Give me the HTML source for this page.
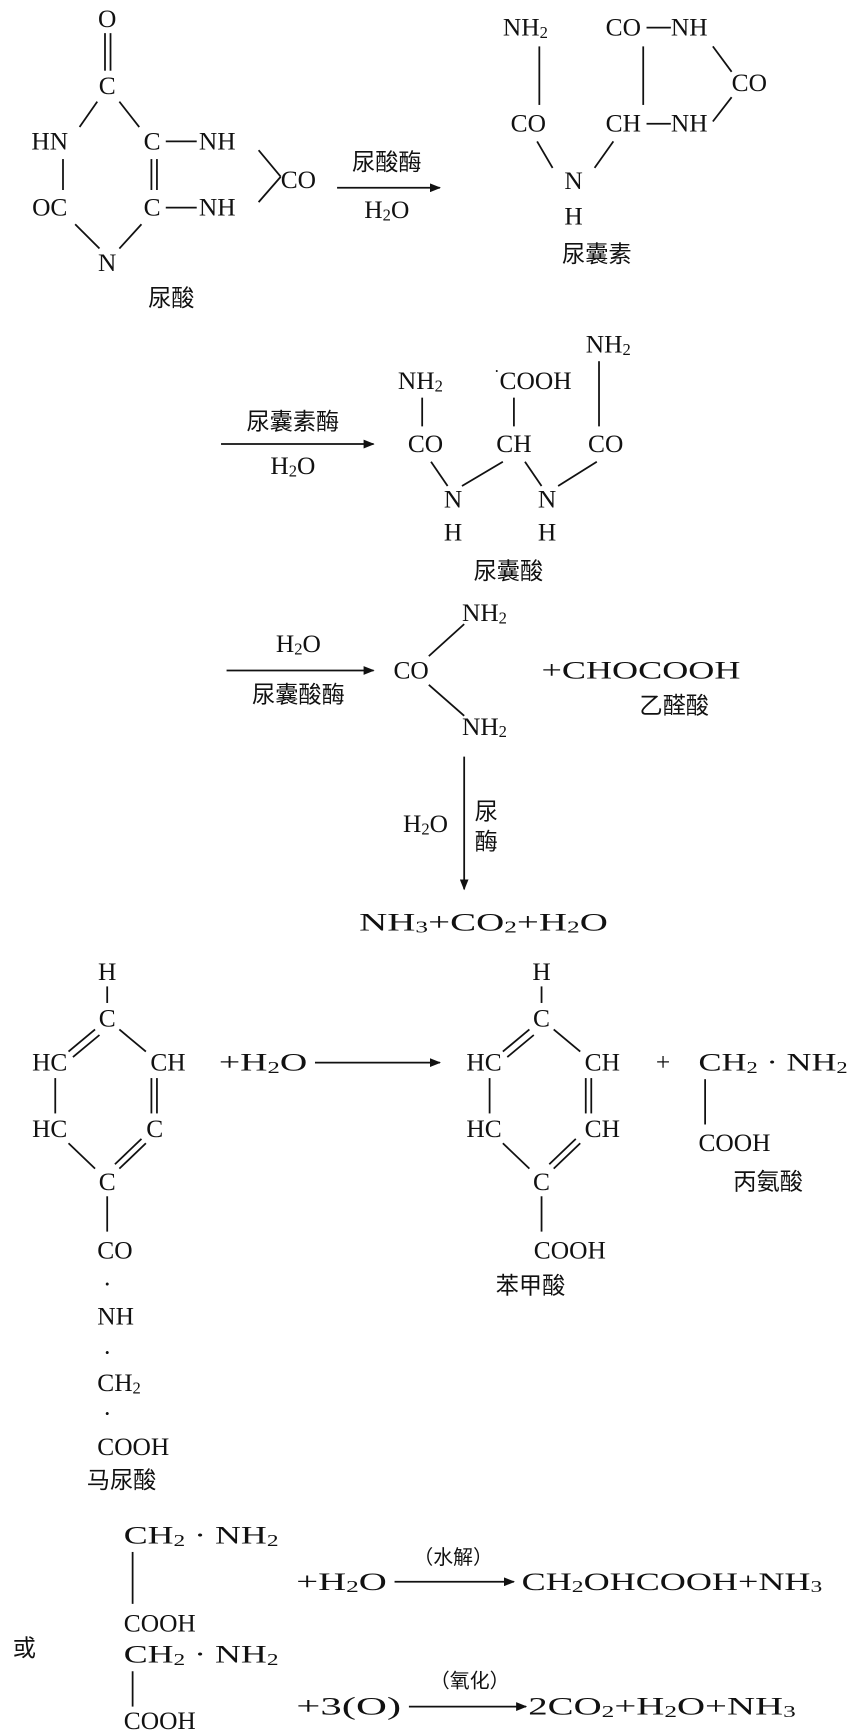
<!DOCTYPE html>
<html><head><meta charset="utf-8"><style>
html,body{margin:0;padding:0;background:#fff;}
svg{display:block;}
text{font-family:"Liberation Serif","Noto Serif CJK SC","Noto Sans CJK SC",serif;font-size:23px;fill:#111;dominant-baseline:central;}
.c{text-anchor:middle;}
.zh{font-family:"Noto Sans CJK SC","WenQuanYi Zen Hei",sans-serif;font-size:21px;}
.s{font-size:15px;}
line,path{stroke:#111;stroke-width:1.6;fill:none;}
</style></head><body>
<svg width="851" height="1732" viewBox="0 0 770 1568" preserveAspectRatio="none">
<defs><marker id="a" markerWidth="10" markerHeight="8" refX="9" refY="4" orient="auto" markerUnits="userSpaceOnUse"><path d="M0,0 L10,4 L0,8 Z" style="fill:#111;stroke:none"/></marker></defs>

<!-- uric acid -->
<text x="97" y="17" class="c">O</text>
<line x1="95" y1="30" x2="95" y2="64"/><line x1="100" y1="30" x2="100" y2="64"/>
<text x="97" y="78" class="c">C</text>
<line x1="88" y1="92" x2="72" y2="115"/><line x1="108" y1="92" x2="126" y2="115"/>
<text x="45" y="128" class="c">HN</text>
<text x="130" y="128">C</text><line x1="150" y1="128" x2="178" y2="128"/><text x="180" y="128">NH</text>
<line x1="57" y1="144" x2="57" y2="172"/>
<line x1="137" y1="144" x2="137" y2="172"/><line x1="142" y1="144" x2="142" y2="172"/>
<text x="45" y="188" class="c">OC</text>
<text x="130" y="188">C</text><line x1="150" y1="188" x2="178" y2="188"/><text x="180" y="188">NH</text>
<line x1="234" y1="136" x2="254" y2="160"/><line x1="234" y1="183" x2="254" y2="160"/>
<text x="254" y="163">CO</text>
<line x1="68" y1="203" x2="90" y2="225"/><line x1="128" y1="203" x2="108" y2="225"/>
<text x="97" y="238" class="c">N</text>
<text x="155" y="268" class="c zh">尿酸</text>
<line x1="305" y1="170" x2="398" y2="170" marker-end="url(#a)"/>
<text x="350" y="145" class="c zh">尿酸酶</text>
<text x="350" y="190" class="c">H<tspan class="s" dy="4">2</tspan><tspan dy="-4">O</tspan></text>

<!-- allantoin -->
<text x="455" y="25">NH<tspan class="s" dy="4">2</tspan></text>
<line x1="488" y1="42" x2="488" y2="95"/>
<text x="478" y="112" class="c">CO</text>
<text x="548" y="25">CO</text><line x1="585" y1="25" x2="607" y2="25"/><text x="607" y="25">NH</text>
<line x1="582" y1="42" x2="582" y2="95"/>
<line x1="645" y1="42" x2="662" y2="65"/>
<text x="662" y="75">CO</text>
<line x1="662" y1="88" x2="645" y2="110"/>
<text x="548" y="112">CH</text><line x1="585" y1="112" x2="607" y2="112"/><text x="607" y="112">NH</text>
<line x1="486" y1="128" x2="500" y2="152"/><line x1="555" y1="128" x2="538" y2="152"/>
<text x="519" y="164" class="c">N</text>
<text x="519" y="196" class="c">H</text>
<text x="540" y="228" class="c zh">尿囊素</text>

<!-- allantoic acid -->
<line x1="200" y1="402" x2="338" y2="402" marker-end="url(#a)"/>
<text x="265" y="380" class="c zh">尿囊素酶</text>
<text x="265" y="422" class="c">H<tspan class="s" dy="4">2</tspan><tspan dy="-4">O</tspan></text>
<text x="360" y="345">NH<tspan class="s" dy="4">2</tspan></text>
<line x1="382" y1="360" x2="382" y2="386"/>
<text x="385" y="402" class="c">CO</text>
<text x="452" y="345">COOH</text>
<text x="447" y="336" class="s">·</text>
<line x1="465" y1="360" x2="465" y2="386"/>
<text x="465" y="402" class="c">CH</text>
<text x="530" y="312">NH<tspan class="s" dy="4">2</tspan></text>
<line x1="542" y1="327" x2="542" y2="386"/>
<text x="548" y="402" class="c">CO</text>
<line x1="390" y1="418" x2="405" y2="440"/><line x1="455" y1="418" x2="418" y2="440"/>
<text x="410" y="452" class="c">N</text><text x="410" y="482" class="c">H</text>
<line x1="475" y1="418" x2="490" y2="440"/><line x1="540" y1="418" x2="505" y2="440"/>
<text x="495" y="452" class="c">N</text><text x="495" y="482" class="c">H</text>
<text x="460" y="515" class="c zh">尿囊酸</text>

<!-- urea -->
<line x1="205" y1="607" x2="338" y2="607" marker-end="url(#a)"/>
<text x="270" y="583" class="c">H<tspan class="s" dy="4">2</tspan><tspan dy="-4">O</tspan></text>
<text x="270" y="627" class="c zh">尿囊酸酶</text>
<text x="372" y="607" class="c">CO</text>
<line x1="388" y1="594" x2="420" y2="565"/><line x1="388" y1="620" x2="420" y2="648"/>
<text x="418" y="555">NH<tspan class="s" dy="4">2</tspan></text>
<text x="418" y="658">NH<tspan class="s" dy="4">2</tspan></text>
<text x="490" y="607" textLength="180" lengthAdjust="spacingAndGlyphs">+CHOCOOH</text>
<text x="610" y="637" class="c zh">乙醛酸</text>
<line x1="420" y1="685" x2="420" y2="805" marker-end="url(#a)"/>
<text x="385" y="746" class="c">H<tspan class="s" dy="4">2</tspan><tspan dy="-4">O</tspan></text>
<text x="440" y="733" class="c zh">尿</text><text x="440" y="760" class="c zh">酶</text>
<text x="325" y="835" textLength="225" lengthAdjust="spacingAndGlyphs">NH<tspan class="s" dy="4">3</tspan><tspan dy="-4">+CO</tspan><tspan class="s" dy="4">2</tspan><tspan dy="-4">+H</tspan><tspan class="s" dy="4">2</tspan><tspan dy="-4">O</tspan></text>

<!-- hippuric -->
<g id="ring">
<text x="97" y="880" class="c">H</text>
<line x1="97" y1="893" x2="97" y2="908"/>
<text x="97" y="922" class="c">C</text>
<line x1="86" y1="932" x2="62" y2="952"/><line x1="90" y1="937" x2="66" y2="957"/>
<line x1="108" y1="932" x2="132" y2="952"/>
<text x="45" y="962" class="c">HC</text>
<text x="152" y="962" class="c">CH</text>
<line x1="50" y1="976" x2="50" y2="1008"/>
<line x1="137" y1="976" x2="137" y2="1008"/><line x1="142" y1="976" x2="142" y2="1008"/>
<text x="45" y="1022" class="c">HC</text>
<line x1="62" y1="1035" x2="86" y2="1058"/>
<line x1="132" y1="1035" x2="108" y2="1058"/><line x1="128" y1="1031" x2="104" y2="1054"/>
<text x="97" y="1070" class="c">C</text>
<line x1="97" y1="1083" x2="97" y2="1115"/>
</g>
<text x="140" y="1022" class="c">C</text>
<text x="88" y="1132">CO</text>
<text x="97" y="1163" class="c">·</text>
<text x="88" y="1192">NH</text>
<text x="97" y="1225" class="c">·</text>
<text x="88" y="1252">CH<tspan class="s" dy="4">2</tspan></text>
<text x="97" y="1280" class="c">·</text>
<text x="88" y="1310">COOH</text>
<text x="110" y="1338" class="c zh">马尿酸</text>
<text x="198" y="962" textLength="80" lengthAdjust="spacingAndGlyphs">+H<tspan class="s" dy="4">2</tspan><tspan dy="-4">O</tspan></text>
<line x1="285" y1="962" x2="398" y2="962" marker-end="url(#a)"/>

<use href="#ring" x="393" y="0"/>
<text x="545" y="1022" class="c">CH</text>
<text x="483" y="1132">COOH</text>
<text x="480" y="1162" class="c zh">苯甲酸</text>
<text x="600" y="962" class="c">+</text>
<text x="632" y="962" textLength="135" lengthAdjust="spacingAndGlyphs">CH<tspan class="s" dy="4">2</tspan><tspan dy="-4"> · NH</tspan><tspan class="s" dy="4">2</tspan></text>
<line x1="638" y1="977" x2="638" y2="1018"/>
<text x="632" y="1035">COOH</text>
<text x="695" y="1068" class="c zh">丙氨酸</text>

<!-- bottom -->
<text x="112" y="1390" textLength="140" lengthAdjust="spacingAndGlyphs">CH<tspan class="s" dy="4">2</tspan><tspan dy="-4"> · NH</tspan><tspan class="s" dy="4">2</tspan></text>
<line x1="120" y1="1405" x2="120" y2="1452"/>
<text x="112" y="1470">COOH</text>
<text x="268" y="1432" textLength="82" lengthAdjust="spacingAndGlyphs">+H<tspan class="s" dy="4">2</tspan><tspan dy="-4">O</tspan></text>
<line x1="357" y1="1432" x2="465" y2="1432" marker-end="url(#a)"/>
<text x="410" y="1408" class="c zh" style="font-size:18px">（水解）</text>
<text x="472" y="1432" textLength="272" lengthAdjust="spacingAndGlyphs">CH<tspan class="s" dy="4">2</tspan><tspan dy="-4">OHCOOH+NH</tspan><tspan class="s" dy="4">3</tspan></text>
<text x="22" y="1490" class="c zh">或</text>
<text x="112" y="1498" textLength="140" lengthAdjust="spacingAndGlyphs">CH<tspan class="s" dy="4">2</tspan><tspan dy="-4"> · NH</tspan><tspan class="s" dy="4">2</tspan></text>
<line x1="120" y1="1513" x2="120" y2="1545"/>
<text x="112" y="1558">COOH</text>
<text x="268" y="1545" textLength="95" lengthAdjust="spacingAndGlyphs">+3(O)</text>
<line x1="370" y1="1545" x2="476" y2="1545" marker-end="url(#a)"/>
<text x="425" y="1520" class="c zh" style="font-size:18px">（氧化）</text>
<text x="478" y="1545" textLength="242" lengthAdjust="spacingAndGlyphs">2CO<tspan class="s" dy="4">2</tspan><tspan dy="-4">+H</tspan><tspan class="s" dy="4">2</tspan><tspan dy="-4">O+NH</tspan><tspan class="s" dy="4">3</tspan></text>
</svg>
</body></html>
